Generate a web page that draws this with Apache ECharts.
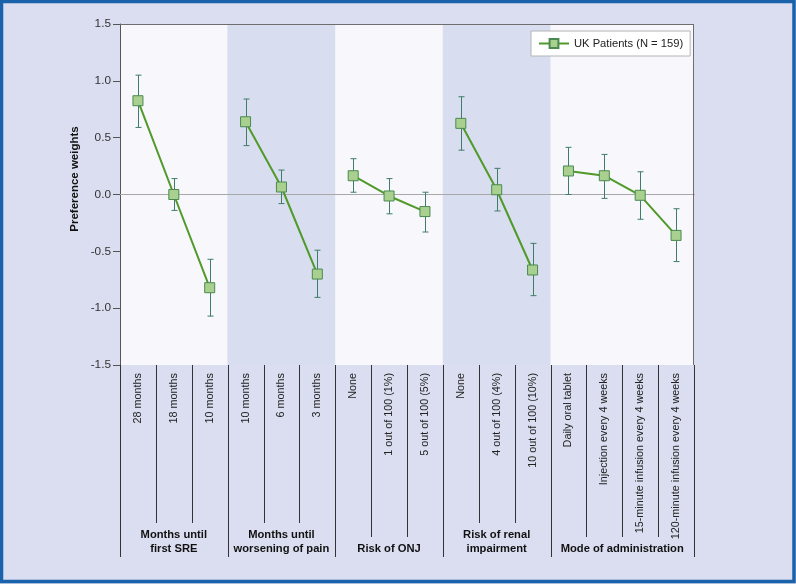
<!DOCTYPE html>
<html>
<head>
<meta charset="utf-8">
<script src="https://cdn.jsdelivr.net/npm/echarts@6/dist/echarts.min.js"></script>
<style>
html,body{margin:0;padding:0;background:#dadef0;}
#chart{width:796px;height:584px;}
</style>
</head>
<body>
<div id="chart"></div>
<script>
var categories = ['28 months','18 months','10 months','10 months','6 months','3 months','None','1 out of 100 (1%)','5 out of 100 (5%)','None','4 out of 100 (4%)','10 out of 100 (10%)','Daily oral tablet','Injection every 4 weeks','15-minute infusion every 4 weeks','120-minute infusion every 4 weeks'];
var groupNames = ['Months until\nfirst SRE','Months until\nworsening of pain','Risk of ONJ','Risk of renal\nimpairment','Mode of administration'];
var groupSizes = [3,3,3,3,4];
var means = [0.825,0.0,-0.82, 0.64,0.066,-0.70, 0.165,-0.013,-0.15, 0.626,0.042,-0.664, 0.207,0.165,-0.007,-0.36];
var lower = [0.59,-0.14,-1.07, 0.43,-0.08,-0.905, 0.02,-0.17,-0.33, 0.39,-0.145,-0.89, 0.0,-0.034,-0.218,-0.59];
var upper = [1.05,0.14,-0.57, 0.84,0.215,-0.49, 0.315,0.14,0.02, 0.86,0.23,-0.43, 0.415,0.353,0.2,-0.125];
var yTicks = [-1.5,-1.0,-0.5,0.0,0.5,1.0,1.5];
var seriesName = 'UK Patients (N = 159)';
var yTitle = 'Preference weights';

var FONT = '"Liberation Sans",Arial,Helvetica,sans-serif';
var chart = echarts.init(document.getElementById('chart'), null, {renderer:'canvas'});

var starts = []; var s = 0;
groupSizes.forEach(function(n){ starts.push(s); s += n; });
var bandData = groupSizes.map(function(n,i){ return [starts[i], starts[i]+n, i]; });
var sepData = [];
for (var k = 0; k <= categories.length; k++) {
  var gi = -1, isBoundary = false;
  for (var g = 0; g < groupSizes.length; g++) {
    if (k === starts[g] || k === starts[g] + groupSizes[g]) isBoundary = true;
    if (k > starts[g] && k < starts[g] + groupSizes[g]) gi = g;
  }
  var twoLine = gi >= 0 && groupNames[gi].indexOf('\n') >= 0;
  sepData.push([k, isBoundary ? 2 : (twoLine ? 0 : 1)]);
}
var labelData = groupSizes.map(function(n,i){ return [starts[i] + n/2, i]; });
var errData = means.map(function(m,i){ return [i+0.5, lower[i], upper[i]]; });

var lineSeries = groupSizes.map(function(n,g){
  var d = [];
  for (var j = 0; j < n; j++) { var i = starts[g]+j; d.push([i+0.5, means[i]]); }
  var ser = {
    name: seriesName, type:'line', xAxisIndex:1, yAxisIndex:0, data:d,
    symbol:'rect', symbolSize:10, z:5,
    lineStyle:{color:'#4f9a28', width:2},
    itemStyle:{color:'#a9d08e', borderColor:'#4a8a50', borderWidth:1},
    emphasis:{disabled:true}, animation:false
  };
  if (g === 0) {
    ser.markLine = {silent:true, symbol:'none', label:{show:false},
      lineStyle:{color:'#a8a8a8', width:1, type:'solid'}, data:[{yAxis:0}], z:1, animation:false};
  }
  return ser;
});

var option = {
  backgroundColor:'#dadef0',
  animation:false,
  graphic:[
    {type:'rect', shape:{x:1.5,y:1.5,width:792.5,height:580}, style:{fill:'none', stroke:'#1a62aa', lineWidth:3.5}, z:100},
    {type:'text', x:75, y:179, rotation:Math.PI/2, z:50,
     style:{text:yTitle, fill:'#111', align:'center', verticalAlign:'middle', font:'bold 11.5px ' + FONT}}
  ],
  grid:{left:120, top:24, right:102, bottom:219, containLabel:false},
  legend:{
    data:[seriesName], left:531, top:31, orient:'horizontal',
    backgroundColor:'#ffffff', borderColor:'#b4b4b4', borderWidth:1, padding:[7,7,7,7],
    itemWidth:30, itemHeight:11, itemGap:4,
    textStyle:{fontFamily:FONT, fontSize:11.2, color:'#222'}
  },
  xAxis:[
    {type:'category', data:categories, position:'bottom', boundaryGap:true,
     axisLine:{show:true, lineStyle:{color:'#555', width:1}},
     axisTick:{show:false},
     axisLabel:{rotate:90, interval:0, margin:8, fontFamily:FONT, fontSize:10.8, color:'#222'},
     splitLine:{show:false}},
    {type:'value', min:0, max:categories.length, show:false}
  ],
  yAxis:[{
    type:'value', min:yTicks[0], max:yTicks[yTicks.length-1], interval:0.5,
    axisLine:{show:true, lineStyle:{color:'#555'}},
    axisTick:{show:true, length:7, lineStyle:{color:'#555'}},
    axisLabel:{margin:9, fontFamily:FONT, fontSize:11.8, color:'#333', formatter:function(v){return v.toFixed(1);}},
    splitLine:{show:false}
  }],
  series:[
    {type:'custom', name:'bands', xAxisIndex:1, yAxisIndex:0, data:bandData, z:0, silent:true,
     encode:{x:[0,1], y:[]},
     renderItem:function(params, api){
       var a = api.coord([api.value(0), yTicks[yTicks.length-1]]);
       var b = api.coord([api.value(1), yTicks[0]]);
       return {type:'rect', shape:{x:a[0], y:a[1], width:b[0]-a[0], height:b[1]-a[1]},
         style:{fill: api.value(2) % 2 === 0 ? '#f7f7fc' : '#d9ddf0'}};
     }},
    {type:'custom', name:'frame', xAxisIndex:1, yAxisIndex:0, data:[[0,categories.length]], z:1, silent:true,
     encode:{x:[0,1], y:[]},
     renderItem:function(params, api){
       var a = api.coord([api.value(0), yTicks[yTicks.length-1]]);
       var b = api.coord([api.value(1), yTicks[0]]);
       return {type:'group', children:[
         {type:'line', shape:{x1:a[0], y1:a[1]+0.5, x2:b[0], y2:a[1]+0.5}, style:{stroke:'#6e6e6e', lineWidth:1}},
         {type:'line', shape:{x1:b[0]-0.5, y1:a[1], x2:b[0]-0.5, y2:b[1]}, style:{stroke:'#6e6e6e', lineWidth:1}}
       ]};
     }},
    {type:'custom', name:'separators', xAxisIndex:1, yAxisIndex:0, data:sepData, z:2, silent:true, clip:false,
     encode:{x:0, y:[]},
     renderItem:function(params, api){
       var p = api.coord([api.value(0), yTicks[0]]);
       var lens = [158, 172, 192];
       var x = Math.round(p[0]) + 0.5;
       return {type:'line', shape:{x1:x, y1:p[1], x2:x, y2:p[1]+lens[api.value(1)]},
         style:{stroke:'#333', lineWidth:1}};
     }},
    {type:'custom', name:'groupLabels', xAxisIndex:1, yAxisIndex:0, data:labelData, z:3, silent:true, clip:false,
     encode:{x:0, y:[]},
     renderItem:function(params, api){
       var p = api.coord([api.value(0), yTicks[0]]);
       return {type:'text', x:p[0], y:p[1]+191,
         style:{text:groupNames[api.value(1)], fill:'#111', align:'center', verticalAlign:'bottom',
           font:'bold 11.2px ' + FONT, lineHeight:14}};
     }},
    {type:'custom', name:'errors', xAxisIndex:1, yAxisIndex:0, data:errData, z:4, silent:true,
     encode:{x:0, y:[1,2]},
     renderItem:function(params, api){
       var lo = api.coord([api.value(0), api.value(1)]);
       var hi = api.coord([api.value(0), api.value(2)]);
       var x = Math.round(lo[0]) + 0.5, w = 3;
       var st = {stroke:'#3e7d68', lineWidth:1};
       return {type:'group', children:[
         {type:'line', shape:{x1:x, y1:hi[1], x2:x, y2:lo[1]}, style:st},
         {type:'line', shape:{x1:x-w, y1:hi[1], x2:x+w, y2:hi[1]}, style:st},
         {type:'line', shape:{x1:x-w, y1:lo[1], x2:x+w, y2:lo[1]}, style:st}
       ]};
     }}
  ].concat(lineSeries)
};
chart.setOption(option);
</script>
</body>
</html>
